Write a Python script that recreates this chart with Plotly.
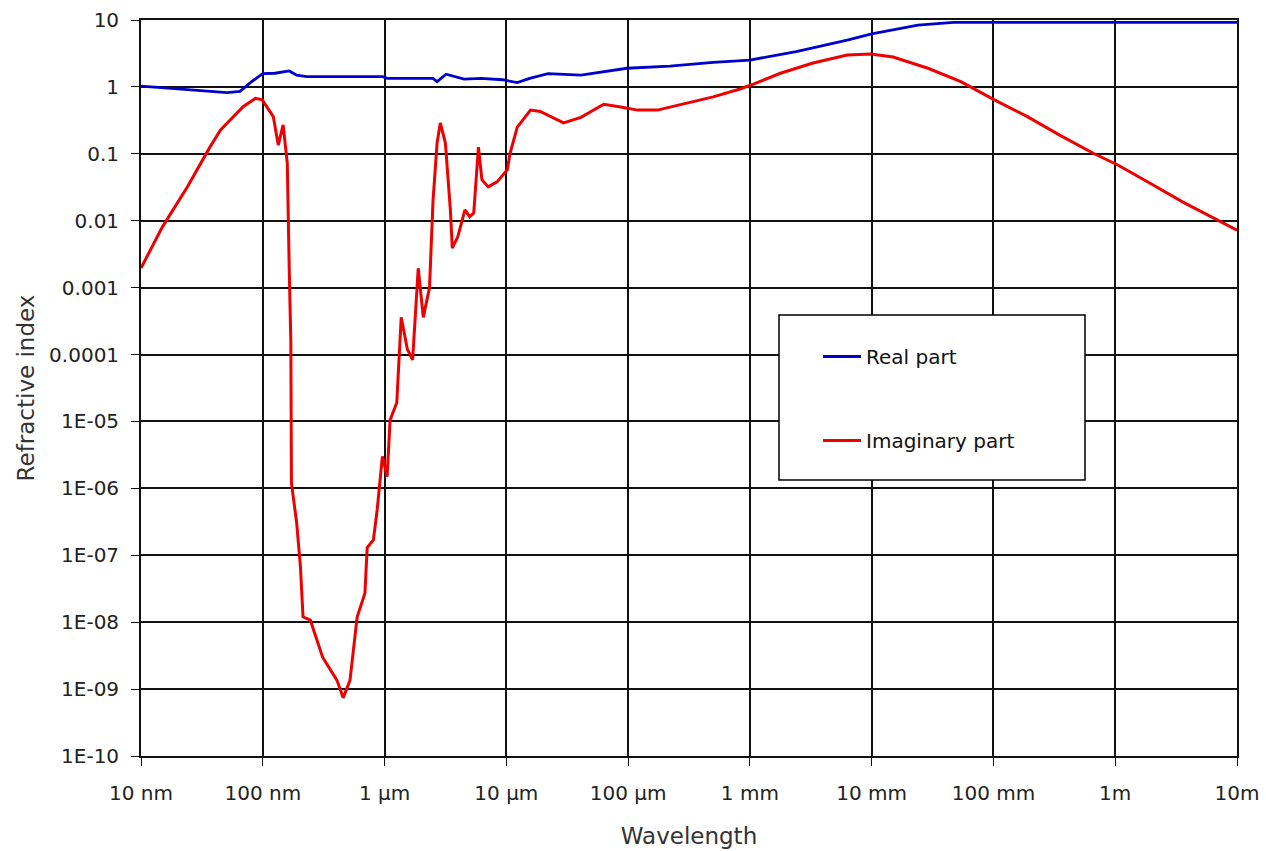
import plotly.graph_objects as go

# Wavelength (m) and refractive index values
real_wavelength = [1.0e-8, 1.5e-8, 2.1e-8, 3.7e-8, 5.1e-8, 6.5e-8, 8.1e-8, 1.0e-7, 1.26e-7,
                   1.65e-7, 1.9e-7, 2.3e-7, 9.7e-7, 1.05e-6, 2.5e-6, 2.7e-6, 3.2e-6, 4.5e-6,
                   6.2e-6, 9.3e-6, 1.23e-5, 1.58e-5, 2.2e-5, 4.1e-5, 9.8e-5, 2.2e-4, 5.0e-4,
                   1.0e-3, 2.4e-3, 6.3e-3, 1.0e-2, 2.4e-2, 4.7e-2, 1.0e-1, 1.0, 10.0]
real_n = [1.03, 0.97, 0.93, 0.85, 0.82, 0.86, 1.2, 1.58, 1.6,
          1.73, 1.5, 1.42, 1.42, 1.34, 1.34, 1.2, 1.55, 1.31,
          1.34, 1.28, 1.16, 1.35, 1.58, 1.5, 1.9, 2.05, 2.33,
          2.52, 3.36, 5.0, 6.2, 8.4, 9.2, 9.2, 9.2, 9.2]

imag_wavelength = [1.0e-8, 1.5e-8, 2.4e-8, 3.7e-8, 4.5e-8, 5.4e-8, 6.9e-8, 8.7e-8, 9.9e-8,
                   1.22e-7, 1.34e-7, 1.47e-7, 1.59e-7, 1.65e-7, 1.7e-7, 1.72e-7, 1.9e-7,
                   2.04e-7, 2.14e-7, 2.46e-7, 3.1e-7, 4.07e-7, 4.57e-7, 5.2e-7, 5.96e-7,
                   6.9e-7, 7.2e-7, 8.1e-7, 8.7e-7, 9.6e-7, 1.05e-6, 1.11e-6, 1.26e-6,
                   1.37e-6, 1.54e-6, 1.7e-6, 1.79e-6, 1.89e-6, 2.08e-6, 2.34e-6, 2.5e-6,
                   2.7e-6, 2.87e-6, 3.16e-6, 3.47e-6, 3.6e-6, 4.0e-6, 4.57e-6, 5.0e-6,
                   5.4e-6, 5.9e-6, 6.3e-6, 7.1e-6, 8.4e-6, 1.02e-5, 1.07e-5, 1.23e-5,
                   1.58e-5, 1.9e-5, 2.95e-5, 4.1e-5, 6.3e-5, 8.7e-5, 1.2e-4, 1.74e-4,
                   2.7e-4, 5.0e-4, 8.3e-4, 1.07e-3, 1.78e-3, 3.3e-3, 6.3e-3, 9.8e-3,
                   1.5e-2, 2.9e-2, 5.4e-2, 0.1, 0.19, 0.35, 0.66, 1.05, 1.95, 3.6, 10.0]
imag_n = [0.00196, 0.0081, 0.032, 0.128, 0.227, 0.32, 0.506, 0.676, 0.64,
          0.36, 0.135, 0.27, 0.072, 0.0018, 1.5e-4, 1.2e-6, 3.0e-7,
          6.6e-8, 1.2e-8, 1.07e-8, 3.0e-9, 1.35e-9, 7.4e-10, 1.35e-9, 1.2e-8,
          2.7e-8, 1.3e-7, 1.7e-7, 4.8e-7, 3.0e-6, 1.5e-6, 1.05e-5, 1.9e-5,
          3.6e-4, 1.2e-4, 8.3e-5, 3.3e-4, 1.95e-3, 3.6e-4, 1.0e-3, 0.02,
          0.145, 0.29, 0.145, 0.0145, 0.0039, 0.0058, 0.0145, 0.0115,
          0.013, 0.126, 0.041, 0.032, 0.038, 0.058, 0.10, 0.25,
          0.45, 0.43, 0.29, 0.35, 0.55, 0.5, 0.45, 0.45,
          0.54, 0.71, 0.93, 1.1, 1.6, 2.28, 3.0, 3.1,
          2.8, 1.9, 1.2, 0.65, 0.36, 0.19, 0.102, 0.068, 0.036, 0.019, 0.0072]

x_tickvals = [1e-8, 1e-7, 1e-6, 1e-5, 1e-4, 1e-3, 1e-2, 1e-1, 1, 10]
x_ticktext = ['10 nm', '100 nm', '1 µm', '10 µm', '100 µm', '1 mm', '10 mm', '100 mm', '1m', '10m']
y_tickvals = [1e-10, 1e-9, 1e-8, 1e-7, 1e-6, 1e-5, 1e-4, 1e-3, 1e-2, 1e-1, 1, 10]
y_ticktext = ['1E-10', '1E-09', '1E-08', '1E-07', '1E-06', '1E-05', '0.0001', '0.001',
              '0.01', '0.1', '1', '10']

fig = go.Figure()
fig.add_trace(go.Scatter(x=real_wavelength, y=real_n, mode='lines', name='Real part',
                         line=dict(color='#0000cc', width=2.8), legendgroup='a'))
fig.add_trace(go.Scatter(x=imag_wavelength, y=imag_n, mode='lines', name='Imaginary part',
                         line=dict(color='#ee0000', width=3), legendgroup='b'))

font = "DejaVu Sans, Verdana, sans-serif"
fig.update_layout(
    width=1266, height=851,
    margin=dict(l=141, r=29, t=20, b=95, autoexpand=False),
    paper_bgcolor='white', plot_bgcolor='white',
    font=dict(family=font, size=20, color='#222'),
    showlegend=True,
    legend=dict(x=(818 - 141) / 1096, y=(756 - 337) / 736, xanchor='left', yanchor='top',
                bgcolor='rgba(0,0,0,0)', borderwidth=0, itemwidth=38,
                tracegroupgap=55, font=dict(size=20, color='#111')),
    shapes=[dict(type='rect', xref='paper', yref='paper',
                 x0=(779 - 141) / 1096, x1=(1085 - 141) / 1096,
                 y0=(756 - 480) / 736, y1=(756 - 315) / 736,
                 line=dict(color='black', width=1.5), fillcolor='white', layer='above')],
)
fig.update_xaxes(type='log', range=[-8, 1], tickvals=x_tickvals, ticktext=x_ticktext,
                 automargin=False,
                 showgrid=True, gridcolor='#111', gridwidth=1.8,
                 showline=True, linecolor='#111', linewidth=1.8, mirror=True,
                 ticks='outside', ticklen=8, tickcolor='#111', ticklabelstandoff=10,
                 tickfont=dict(size=20, color='#222'),
                 title=dict(text='Wavelength', font=dict(size=23, color='#333'), standoff=24),
                 zeroline=False)
fig.update_yaxes(type='log', range=[-10, 1], tickvals=y_tickvals, ticktext=y_ticktext,
                 automargin=False,
                 showgrid=True, gridcolor='#111', gridwidth=1.8,
                 showline=True, linecolor='#111', linewidth=1.8, mirror=True,
                 ticks='outside', ticklen=8, tickcolor='#111', ticklabelstandoff=8,
                 tickfont=dict(size=20, color='#222'),
                 title=dict(text='Refractive index', font=dict(size=23, color='#333'), standoff=8),
                 zeroline=False)

fig.write_html("out.html")
